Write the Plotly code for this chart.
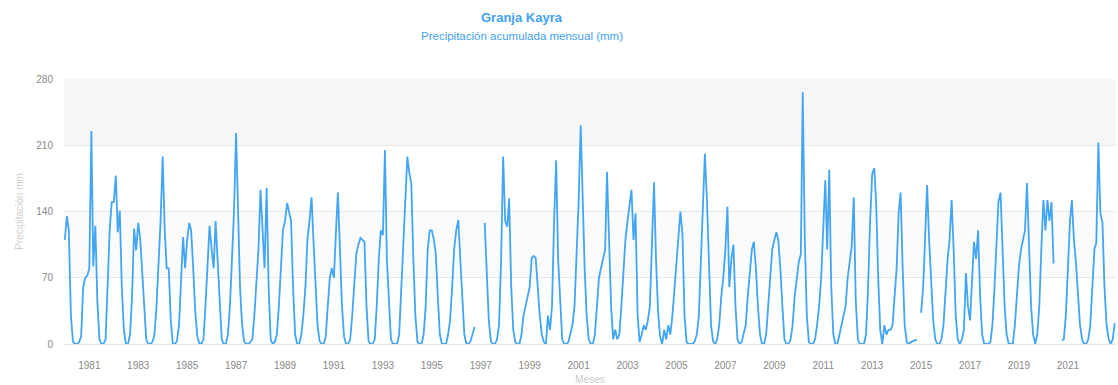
import pandas as pd
import plotly.graph_objects as go

# Monthly accumulated precipitation (mm), Jan..Dec
p1980 = [110, 135, 120, 30, 3, 0, 0, 2, 8, 60, 70, 72]
p1981 = [80, 225, 82, 125, 45, 5, 0, 0, 5, 60, 120, 150]
p1982 = [150, 178, 118, 141, 60, 15, 0, 0, 10, 50, 122, 99]
p1983 = [128, 110, 75, 30, 5, 0, 0, 2, 10, 40, 80, 130]
p1984 = [198, 120, 80, 80, 25, 0, 0, 3, 20, 70, 113, 80]
p1985 = [110, 128, 120, 80, 35, 8, 1, 0, 5, 40, 90, 125]
p1986 = [100, 80, 130, 90, 40, 5, 0, 0, 10, 40, 90, 140]
p1987 = [223, 120, 60, 20, 3, 0, 0, 2, 5, 30, 70, 100]
p1988 = [163, 120, 80, 165, 60, 5, 0, 2, 10, 40, 80, 120]
p1989 = [130, 149, 140, 130, 60, 10, 0, 0, 10, 30, 60, 110]
p1990 = [130, 155, 110, 60, 20, 3, 0, 0, 8, 40, 70, 80]
p1991 = [70, 120, 160, 100, 40, 8, 0, 0, 5, 30, 70, 95]
p1992 = [105, 112, 110, 108, 40, 3, 0, 0, 5, 40, 90, 120]
p1993 = [115, 205, 90, 40, 5, 0, 0, 0, 10, 60, 110, 160]
p1994 = [198, 180, 170, 90, 30, 2, 0, 0, 10, 39, 100, 120]
p1995 = [120, 110, 96, 50, 10, 0, 0, 0, 10, 25, 60, 100]
p1996 = [120, 131, 90, 45, 10, 0, 0, 3, 10, 18, None, None]
p1997 = [None, None, 128, 70, 25, 3, 0, 0, 5, 20, 90, 198]
p1998 = [130, 124, 154, 60, 15, 2, 0, 0, 10, 30, 40, 50]
p1999 = [60, 91, 93, 91, 60, 30, 10, 2, 0, 30, 15, 40]
p2000 = [130, 194, 90, 40, 5, 0, 0, 2, 10, 20, 40, 90]
p2001 = [150, 231, 150, 80, 30, 5, 0, 0, 10, 35, 70, 80]
p2002 = [92, 100, 182, 110, 40, 5, 15, 5, 10, 40, 80, 110]
p2003 = [130, 150, 163, 110, 138, 30, 2, 10, 20, 15, 25, 40]
p2004 = [120, 171, 90, 35, 8, 0, 15, 5, 20, 10, 30, 60]
p2005 = [90, 120, 140, 115, 30, 2, 0, 0, 0, 3, 10, 30]
p2006 = [90, 150, 201, 152, 80, 20, 3, 0, 5, 20, 50, 70]
p2007 = [100, 145, 60, 90, 105, 40, 5, 0, 2, 10, 20, 50]
p2008 = [80, 100, 108, 80, 40, 10, 0, 0, 10, 40, 70, 100]
p2009 = [110, 118, 110, 80, 40, 5, 0, 0, 5, 20, 50, 70]
p2010 = [87, 95, 266, 110, 30, 2, 0, 0, 5, 20, 40, 70]
p2011 = [120, 173, 100, 184, 60, 10, 0, 0, 10, 20, 30, 40]
p2012 = [70, 85, 103, 155, 45, 5, 0, 0, 0, 10, 60, 130]
p2013 = [180, 186, 150, 70, 15, 0, 20, 10, 15, 15, 20, 50]
p2014 = [80, 140, 160, 80, 20, 2, 0, 2, 3, 4, 4, None]
p2015 = [33, 60, 110, 168, 110, 70, 25, 5, 0, 0, 5, 20]
p2016 = [60, 90, 110, 152, 100, 30, 5, 0, 5, 15, 75, 40]
p2017 = [25, 70, 108, 90, 120, 50, 10, 0, 0, 0, 2, 20]
p2018 = [60, 110, 150, 160, 100, 40, 10, 0, 0, 0, 20, 50]
p2019 = [82, 100, 110, 120, 170, 110, 40, 10, 0, 10, 40, 100]
p2020 = [152, 120, 152, 130, 150, 85, None, None, None, 4, 5, 30]
p2021 = [90, 130, 152, 110, 86, 50, 20, 5, 0, 0, 5, 20]
p2022 = [60, 100, 107, 213, 138, 128, 60, 20, 5, 0, 5, 22]

years = list(range(1980, 2023))
series = [p1980, p1981, p1982, p1983, p1984, p1985, p1986, p1987, p1988, p1989,
          p1990, p1991, p1992, p1993, p1994, p1995, p1996, p1997, p1998, p1999,
          p2000, p2001, p2002, p2003, p2004, p2005, p2006, p2007, p2008, p2009,
          p2010, p2011, p2012, p2013, p2014, p2015, p2016, p2017, p2018, p2019,
          p2020, p2021, p2022]

dates, values = [], []
for y, vals in zip(years, series):
    for m, v in enumerate(vals, start=1):
        dates.append(pd.Timestamp(year=y, month=m, day=1))
        values.append(v)

tick_years = list(range(1981, 2022, 2))
tick_vals = [pd.Timestamp(year=y, month=1, day=1) for y in tick_years]
tick_text = [str(y) for y in tick_years]

FONT = "Liberation Sans, Arial, sans-serif"
BLUE = "#3fa1f0"

fig = go.Figure()
fig.add_trace(go.Scatter(
    x=dates, y=values, mode="lines",
    line=dict(color="#42a5f5", width=1.8),
    connectgaps=False, showlegend=False,
))

# alternate bands
fig.add_shape(type="rect", xref="paper", yref="y", x0=0, x1=1, y0=210, y1=280,
              fillcolor="#f6f6f6", line_width=0, layer="below")
fig.add_shape(type="rect", xref="paper", yref="y", x0=0, x1=1, y0=70, y1=140,
              fillcolor="#fbfbfb", line_width=0, layer="below")

fig.update_layout(
    width=1118, height=385,
    margin=dict(l=64, r=2, t=79, b=41),
    paper_bgcolor="white", plot_bgcolor="white",
    font=dict(family=FONT, size=10, color="#8a8a8a"),
    annotations=[
        dict(text="<b>Granja Kayra</b>", xref="paper", yref="paper",
             x=(522 - 64) / (1116 - 64), y=(344 - 17) / 265,
             xanchor="center", yanchor="middle", showarrow=False,
             font=dict(family=FONT, size=13, color=BLUE)),
        dict(text="Precipitación acumulada mensual (mm)", xref="paper", yref="paper",
             x=(522 - 64) / (1116 - 64), y=(344 - 36) / 265,
             xanchor="center", yanchor="middle", showarrow=False,
             font=dict(family=FONT, size=11.5, color=BLUE)),
    ],
    xaxis=dict(
        type="date", automargin=False,
        range=[pd.Timestamp("1979-12-20"), pd.Timestamp("2022-12-20")],
        tickvals=tick_vals, ticktext=tick_text,
        showgrid=False, zeroline=False,
        showline=True, linecolor="#dfe4ee", linewidth=1,
        ticks="", ticklabelstandoff=12,
        tickfont=dict(size=10, color="#8a8a8a"),
        title=dict(text="Meses", font=dict(size=10, color="#c8c8c8"), standoff=7),
    ),
    yaxis=dict(
        range=[0, 280], automargin=False,
        tickvals=[0, 70, 140, 210, 280],
        ticktext=["0", "70", "140", "210", "280"],
        showgrid=True, gridcolor="#e8e8e8", gridwidth=1,
        zeroline=False, ticks="", ticklabelstandoff=10,
        tickfont=dict(size=10, color="#8a8a8a"),
        title=dict(text="Precipitación mm", font=dict(size=10, color="#cfcfcf"), standoff=10),
    ),
)

fig.write_html(
    "out.html",
    config={"displayModeBar": False},
    post_script="document.body.style.margin='0';document.body.style.overflow='hidden';",
)
